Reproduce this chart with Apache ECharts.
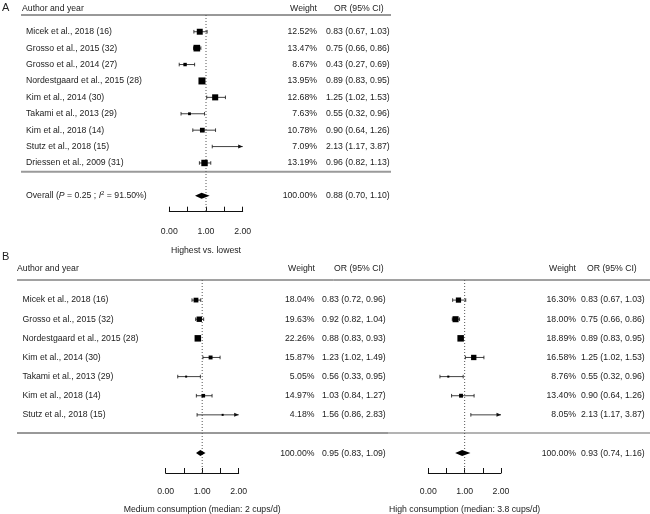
<!DOCTYPE html>
<html><head><meta charset="utf-8">
<script src="https://cdn.jsdelivr.net/npm/echarts@6/dist/echarts.min.js"></script>
<style>html,body{margin:0;padding:0;background:#fff}#c{width:650px;height:514px}</style>
</head><body><div id="c"></div>
<script>
// ---- Data ----
const studiesA = ['Micek et al., 2018 (16)', 'Grosso et al., 2015 (32)', 'Grosso et al., 2014 (27)', 'Nordestgaard et al., 2015 (28)', 'Kim et al., 2014 (30)', 'Takami et al., 2013 (29)', 'Kim et al., 2018 (14)', 'Stutz et al., 2018 (15)', 'Driessen et al., 2009 (31)'];
const orA = [0.83, 0.75, 0.43, 0.89, 1.25, 0.55, 0.90, 2.13, 0.96];
const loA = [0.67, 0.66, 0.27, 0.83, 1.02, 0.32, 0.64, 1.17, 0.82];
const hiA = [1.03, 0.86, 0.69, 0.95, 1.53, 0.96, 1.26, 3.87, 1.13];
const weightA = [12.52, 13.47, 8.67, 13.95, 12.68, 7.63, 10.78, 7.09, 13.19];
const overallA = [0.88, 0.70, 1.10];

const studiesB = ['Micek et al., 2018 (16)', 'Grosso et al., 2015 (32)', 'Nordestgaard et al., 2015 (28)', 'Kim et al., 2014 (30)', 'Takami et al., 2013 (29)', 'Kim et al., 2018 (14)', 'Stutz et al., 2018 (15)'];
const orMed = [0.83, 0.92, 0.88, 1.23, 0.56, 1.03, 1.56];
const loMed = [0.72, 0.82, 0.83, 1.02, 0.33, 0.84, 0.86];
const hiMed = [0.96, 1.04, 0.93, 1.49, 0.95, 1.27, 2.83];
const weightMed = [18.04, 19.63, 22.26, 15.87, 5.05, 14.97, 4.18];
const overallMed = [0.95, 0.83, 1.09];

const orHigh = [0.83, 0.75, 0.89, 1.25, 0.55, 0.90, 2.13];
const loHigh = [0.67, 0.66, 0.83, 1.02, 0.32, 0.64, 1.17];
const hiHigh = [1.03, 0.86, 0.95, 1.53, 0.96, 1.26, 3.87];
const weightHigh = [16.30, 18.00, 18.89, 16.58, 8.76, 13.40, 8.05];
const overallHigh = [0.93, 0.74, 1.16];

const xTicks = [0, 0.5, 1, 1.5, 2];
const axisTitles = ['Highest vs. lowest', 'Medium consumption (median: 2 cups/d)', 'High consumption (median: 3.8 cups/d)'];
const overallLabelA = 'Overall';
const pValueA = '0.25';
const i2A = '91.50%';

// ---- Rendering ----
const FONT = 'Liberation Sans, Arial, sans-serif';
const FS = 8.7;
const TXT = '#222';
const fmt = v => v.toFixed(2);
const orText = (o, l, h) => fmt(o) + ' (' + fmt(l) + ', ' + fmt(h) + ')';

function makeStudySeries(gridIdx, labels, ors, los, his, ws, cols, maxSize) {
  const wmax = Math.max.apply(null, ws);
  const data = ors.map((o, i) => [i, o, los[i], his[i], ws[i]]);
  return {
    type: 'custom', xAxisIndex: gridIdx, yAxisIndex: gridIdx, clip: false, silent: true,
    data: data,
    renderItem: function (params, api) {
      const i = params.dataIndex;
      const row = api.value(0), o = api.value(1), lo = api.value(2), hi = api.value(3), w = api.value(4);
      const y = api.coord([0, row])[1];
      const xl = api.coord([Math.max(lo, 0), row])[0];
      const xh = api.coord([Math.min(hi, 2), row])[0];
      const xo = api.coord([o, row])[0];
      const ch = [];
      ch.push({type: 'line', shape: {x1: xl, y1: y, x2: xh, y2: y}, style: {stroke: '#111', lineWidth: 0.8}});
      ch.push({type: 'line', shape: {x1: xl, y1: y - 1.8, x2: xl, y2: y + 1.8}, style: {stroke: '#111', lineWidth: 0.8}});
      if (hi > 2) {
        ch.push({type: 'polygon', shape: {points: [[xh, y], [xh - 4.5, y - 2], [xh - 4.5, y + 2]]}, style: {fill: '#111'}});
      } else {
        ch.push({type: 'line', shape: {x1: xh, y1: y - 1.8, x2: xh, y2: y + 1.8}, style: {stroke: '#111', lineWidth: 0.8}});
      }
      if (o <= 2) {
        const s = Math.max(2, maxSize * Math.pow(w / wmax, 1.5));
        ch.push({type: 'rect', shape: {x: xo - s / 2, y: y - s / 2, width: s, height: s}, style: {fill: '#000'}});
      }
      if (cols.label != null) {
        ch.push({type: 'text', x: cols.label, y: y, style: {text: labels[i], fill: TXT, font: FS + 'px ' + FONT, verticalAlign: 'middle', align: 'left'}});
      }
      ch.push({type: 'text', x: cols.weight, y: y, style: {text: w.toFixed(2) + '%', fill: TXT, font: FS + 'px ' + FONT, verticalAlign: 'middle', align: 'right'}});
      ch.push({type: 'text', x: cols.or, y: y, style: {text: orText(o, lo, hi), fill: TXT, font: FS + 'px ' + FONT, verticalAlign: 'middle', align: 'left'}});
      return {type: 'group', children: ch};
    }
  };
}

function makeOverallSeries(gridIdx, row, ov, cols, richLabel) {
  return {
    type: 'custom', xAxisIndex: gridIdx, yAxisIndex: gridIdx, clip: false, silent: true,
    data: [[row, ov[0], ov[1], ov[2]]],
    renderItem: function (params, api) {
      const r = api.value(0), o = api.value(1), lo = api.value(2), hi = api.value(3);
      const y = api.coord([0, r])[1];
      const xl = api.coord([lo, r])[0], xh = api.coord([hi, r])[0], xo = api.coord([o, r])[0];
      const ch = [];
      ch.push({type: 'polygon', shape: {points: [[xl, y], [xo, y - 3], [xh, y], [xo, y + 3]]}, style: {fill: '#000'}});
      if (richLabel) {
        ch.push({type: 'text', x: cols.label, y: y, style: {
          text: overallLabelA + ' ({i|P} = ' + pValueA + ' ; {i|I}{sup|2} = ' + i2A + ')',
          fill: TXT, font: FS + 'px ' + FONT, verticalAlign: 'middle', align: 'left',
          rich: {i: {fontStyle: 'italic', fontSize: FS, fontFamily: FONT, fill: TXT},
                 sup: {fontSize: 6, fontFamily: FONT, fill: TXT, verticalAlign: 'top', padding: [0, 0, 5, 0]}}
        }});
      }
      ch.push({type: 'text', x: cols.weight, y: y, style: {text: '100.00%', fill: TXT, font: FS + 'px ' + FONT, verticalAlign: 'middle', align: 'right'}});
      ch.push({type: 'text', x: cols.or, y: y, style: {text: orText(o, lo, hi), fill: TXT, font: FS + 'px ' + FONT, verticalAlign: 'middle', align: 'left'}});
      return {type: 'group', children: ch};
    }
  };
}

function refLine(gridIdx, ymin, ymax) {
  return {
    type: 'custom', xAxisIndex: gridIdx, yAxisIndex: gridIdx, clip: false, silent: true,
    data: [[1, ymin, ymax]],
    renderItem: function (params, api) {
      const p1 = api.coord([api.value(0), api.value(1)]);
      const p2 = api.coord([api.value(0), api.value(2)]);
      return {type: 'line', shape: {x1: p1[0], y1: p1[1], x2: p2[0], y2: p2[1]}, style: {stroke: '#555', lineWidth: 1, lineDash: [1, 2]}};
    }
  };
}

function xAxisCfg(gridIdx, name, gap, margin) {
  return {
    gridIndex: gridIdx, type: 'value', position: 'bottom', min: xTicks[0], max: xTicks[xTicks.length - 1], interval: 0.5,
    axisLine: {show: true, onZero: false, lineStyle: {color: '#111', width: 1}},
    axisTick: {show: true, inside: true, length: 5, lineStyle: {color: '#111'}},
    splitLine: {show: false},
    axisLabel: {color: TXT, fontSize: FS, fontFamily: FONT, margin: margin,
      formatter: v => (Math.abs(v - Math.round(v)) < 1e-9 ? v.toFixed(2) : '')},
    name: name, nameLocation: 'middle', nameGap: gap,
    nameTextStyle: {color: TXT, fontSize: FS, fontFamily: FONT}
  };
}

const yA = {min: -1.02, max: 10.97};
const yB = {min: -1.05, max: 9.04};

const option = {
  backgroundColor: '#fff',
  animation: false,
  grid: [
    {left: 169.3, width: 73.4, top: 15, height: 196.7, outerBoundsMode: 'none', containLabel: false},
    {left: 165.7, width: 73, top: 280, height: 193, outerBoundsMode: 'none', containLabel: false},
    {left: 428.3, width: 72.7, top: 280, height: 193, outerBoundsMode: 'none', containLabel: false}
  ],
  xAxis: [xAxisCfg(0, axisTitles[0], 34, 15), xAxisCfg(1, axisTitles[1], 32, 14), xAxisCfg(2, axisTitles[2], 32, 14)],
  yAxis: [
    {gridIndex: 0, type: 'value', inverse: true, min: yA.min, max: yA.max, show: false},
    {gridIndex: 1, type: 'value', inverse: true, min: yB.min, max: yB.max, show: false},
    {gridIndex: 2, type: 'value', inverse: true, min: yB.min, max: yB.max, show: false}
  ],
  graphic: [
    {type: 'text', left: 2, top: 2, style: {text: 'A', font: '11px ' + FONT, fill: TXT}},
    {type: 'text', left: 2, top: 251, style: {text: 'B', font: '11px ' + FONT, fill: TXT}},
    {type: 'text', x: 22, y: 9, style: {text: 'Author and year', font: FS + 'px ' + FONT, fill: TXT, verticalAlign: 'middle'}},
    {type: 'text', x: 317, y: 9, style: {text: 'Weight', font: FS + 'px ' + FONT, fill: TXT, verticalAlign: 'middle', align: 'right'}},
    {type: 'text', x: 334, y: 9, style: {text: 'OR (95% CI)', font: FS + 'px ' + FONT, fill: TXT, verticalAlign: 'middle'}},
    {type: 'line', shape: {x1: 21, y1: 15, x2: 391, y2: 15}, style: {stroke: '#333', lineWidth: 1}},
    {type: 'line', shape: {x1: 21, y1: 171.7, x2: 391, y2: 171.7}, style: {stroke: '#9a9a9a', lineWidth: 2}},
    {type: 'text', x: 17, y: 269, style: {text: 'Author and year', font: FS + 'px ' + FONT, fill: TXT, verticalAlign: 'middle'}},
    {type: 'text', x: 315, y: 269, style: {text: 'Weight', font: FS + 'px ' + FONT, fill: TXT, verticalAlign: 'middle', align: 'right'}},
    {type: 'text', x: 334, y: 269, style: {text: 'OR (95% CI)', font: FS + 'px ' + FONT, fill: TXT, verticalAlign: 'middle'}},
    {type: 'text', x: 576, y: 269, style: {text: 'Weight', font: FS + 'px ' + FONT, fill: TXT, verticalAlign: 'middle', align: 'right'}},
    {type: 'text', x: 587, y: 269, style: {text: 'OR (95% CI)', font: FS + 'px ' + FONT, fill: TXT, verticalAlign: 'middle'}},
    {type: 'line', shape: {x1: 17, y1: 280, x2: 650, y2: 280}, style: {stroke: '#444', lineWidth: 1}},
    {type: 'line', shape: {x1: 17, y1: 433, x2: 388, y2: 433}, style: {stroke: '#333', lineWidth: 1}},
    {type: 'line', shape: {x1: 388, y1: 433, x2: 650, y2: 433}, style: {stroke: '#9a9a9a', lineWidth: 1.5}}
  ],
  series: [
    refLine(0, yA.min, yA.max),
    refLine(1, yB.min, yB.max),
    refLine(2, yB.min, yB.max),
    makeStudySeries(0, studiesA, orA, loA, hiA, weightA, {label: 26, weight: 317, or: 326}, 7),
    makeOverallSeries(0, 10, overallA, {label: 26, weight: 317, or: 326}, true),
    makeStudySeries(1, studiesB, orMed, loMed, hiMed, weightMed, {label: 22.5, weight: 314.5, or: 322}, 6.5),
    makeOverallSeries(1, 8, overallMed, {weight: 314.5, or: 322}, false),
    makeStudySeries(2, studiesB, orHigh, loHigh, hiHigh, weightHigh, {label: null, weight: 576, or: 581}, 6.5),
    makeOverallSeries(2, 8, overallHigh, {weight: 576, or: 581}, false)
  ]
};
const chart = echarts.init(document.getElementById('c'), null, {renderer: 'canvas'});
chart.setOption(option);
</script>
</body></html>
